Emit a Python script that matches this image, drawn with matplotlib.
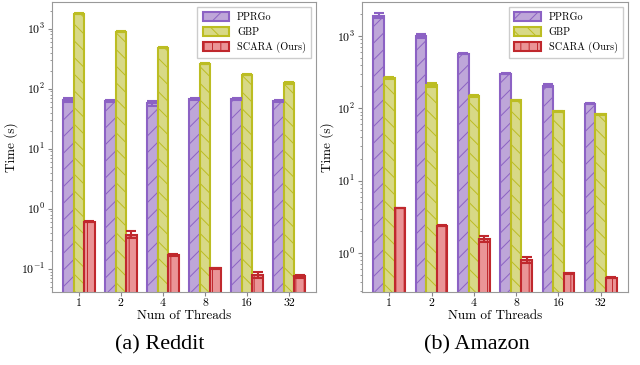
import numpy as np
import matplotlib
matplotlib.use("Agg")
import matplotlib.pyplot as plt

plt.rcParams['font.family'] = 'serif'
plt.rcParams['font.serif'] = ['cmr10']
plt.rcParams['mathtext.fontset'] = 'cm'
plt.rcParams['axes.formatter.use_mathtext'] = True
plt.rcParams['hatch.linewidth'] = 0.7

threads = ['1', '2', '4', '8', '16', '32']
methods = ['PPRGo', 'GBP', 'SCARA (Ours)']

# Reddit timings (s) and std
reddit_pprgo = [65, 62, 57, 68, 67, 63]
reddit_gbp = [1780, 890, 480, 262, 172, 124]
reddit_scara = [0.61, 0.37, 0.17, 0.102, 0.079, 0.075]
reddit_pprgo_err = [4, 2, 6, 3, 3, 2]
reddit_gbp_err = [40, 20, 10, 6, 4, 4]
reddit_scara_err = [0.02, 0.05, 0.004, 0.002, 0.008, 0.004]

# Amazon timings (s) and std
amazon_pprgo = [1900, 1000, 565, 299, 206, 116]
amazon_gbp = [261, 210, 148, 128, 91, 82]
amazon_scara = [4.2, 2.4, 1.58, 0.80, 0.525, 0.456]
amazon_pprgo_err = [150, 60, 10, 6, 10, 3]
amazon_gbp_err = [5, 12, 3, 4, 2, 2]
amazon_scara_err = [0.05, 0.05, 0.14, 0.07, 0.01, 0.01]

edge_colors = ['#8c62c4', '#bcbd22', '#c0282d']
face_colors = ['#bea6d9', '#d8d986', '#ea9496']
hatches = ['//', '\\\\', '||']

fig = plt.figure(figsize=(6.4, 3.65), dpi=100)
ax1 = fig.add_axes([0.081, 0.2, 0.413, 0.795])
ax2 = fig.add_axes([0.566, 0.2, 0.415, 0.795])


def draw(ax, series, errs, ylim):
    x = np.arange(len(threads))
    w = 0.25
    for i, (vals, err) in enumerate(zip(series, errs)):
        ax.bar(x + (i - 1) * w, vals, w, yerr=err, label=methods[i],
               color=face_colors[i], edgecolor=edge_colors[i], linewidth=1.5,
               hatch=hatches[i], capsize=3.5,
               error_kw=dict(ecolor=edge_colors[i], elinewidth=1.5, capthick=1.5))
    ax.set_yscale('log')
    ax.set_ylim(*ylim)
    ax.set_xlim(-0.64, 5.64)
    ax.set_xticks(x)
    ax.set_xticklabels(threads)
    ax.set_xlabel('Num of Threads', fontsize=9.5, labelpad=1)
    ax.set_ylabel('Time (s)', fontsize=9.5, labelpad=2)
    ax.tick_params(labelsize=8.5, color='#888888', length=3, pad=2)
    ax.tick_params(which='minor', color='#888888', length=1.5)
    for s in ax.spines.values():
        s.set_color('#999999')
    ax.legend(loc='upper right', fontsize=7.3, framealpha=1,
              edgecolor='#cccccc', fancybox=False, handlelength=2.6,
              handleheight=1.0, borderpad=0.5, labelspacing=0.5)


draw(ax1, [reddit_pprgo, reddit_gbp, reddit_scara],
     [reddit_pprgo_err, reddit_gbp_err, reddit_scara_err], (0.041, 2800))
draw(ax2, [amazon_pprgo, amazon_gbp, amazon_scara],
     [amazon_pprgo_err, amazon_gbp_err, amazon_scara_err], (0.29, 2950))

fig.text(0.25, 0.055, '(a) Reddit', ha='center', va='center',
         fontsize=16, family='Liberation Serif')
fig.text(0.745, 0.055, '(b) Amazon', ha='center', va='center',
         fontsize=16, family='Liberation Serif')

fig.savefig('out.png', dpi=100)
